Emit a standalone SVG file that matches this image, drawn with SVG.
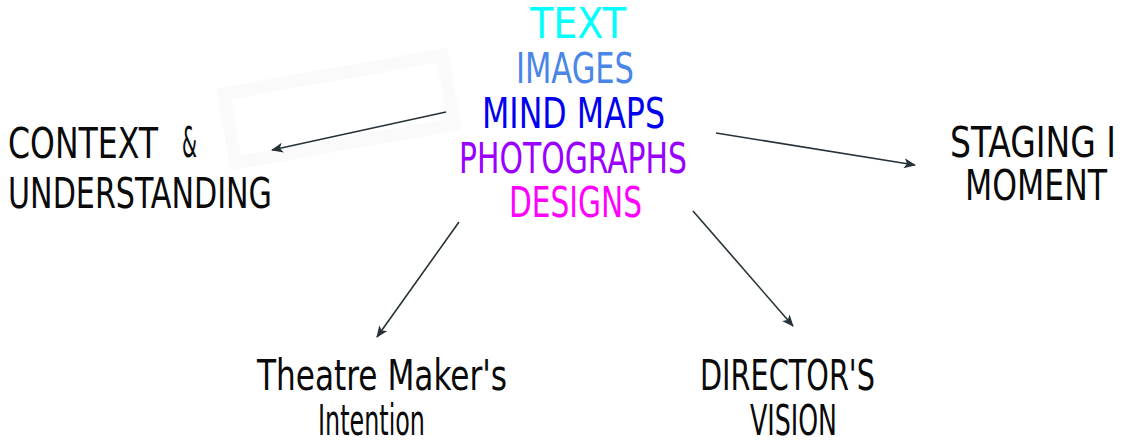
<svg xmlns="http://www.w3.org/2000/svg" width="1122" height="441" viewBox="0 0 1122 441">
  <style>
    .lbl { font-family: "Liberation Sans Narrow", "DejaVu Sans Condensed", "Liberation Sans", sans-serif; font-size: 42px; fill: #0a0a0a; }
    .hub { font-family: "Liberation Sans Narrow", "DejaVu Sans Condensed", "Liberation Sans", sans-serif; font-size: 42px; }
    .edge { stroke: #263238; stroke-width: 1.6; fill: none; marker-end: url(#head); }
  </style>
  <defs>
    <marker id="head" viewBox="0 0 12 10" refX="11" refY="5" markerWidth="12" markerHeight="10" markerUnits="userSpaceOnUse" orient="auto">
      <path d="M0,0 L12,5 L0,10 L3,5 Z" fill="#263238"/>
    </marker>
  </defs>
  <rect width="1122" height="441" fill="#ffffff"/>

  <!-- faint tilted frame behind the left branch -->
  <rect x="228" y="74" width="222" height="70" fill="none" stroke="#fafafa" stroke-width="13" transform="rotate(-10 339 109)"/>

  <g id="connectors">
    <line class="edge" x1="446" y1="112" x2="272" y2="150"/>
    <line class="edge" x1="716" y1="133" x2="915" y2="165"/>
    <line class="edge" x1="459" y1="222" x2="377" y2="337"/>
    <line class="edge" x1="693" y1="211" x2="793" y2="326"/>
  </g>

  <g id="hub">
    <text class="hub" x="530" y="38" textLength="96" lengthAdjust="spacingAndGlyphs" fill="#00ffff">TEXT</text>
    <text class="hub" x="516" y="83" textLength="118" lengthAdjust="spacingAndGlyphs" fill="#4a86e8">IMAGES</text>
    <text class="hub" x="482" y="128" textLength="183" lengthAdjust="spacingAndGlyphs" fill="#0000ee">MIND MAPS</text>
    <text class="hub" x="459" y="173" textLength="228" lengthAdjust="spacingAndGlyphs" fill="#9900ff">PHOTOGRAPHS</text>
    <text class="hub" x="509" y="217" textLength="133" lengthAdjust="spacingAndGlyphs" fill="#ff00ff">DESIGNS</text>
  </g>

  <g id="context">
    <text class="lbl" x="8" y="158" textLength="150" lengthAdjust="spacingAndGlyphs">CONTEXT</text>
    <text class="lbl" x="182" y="157" font-size="20" textLength="15" lengthAdjust="spacingAndGlyphs">&amp;</text>
    <text class="lbl" x="8" y="208" textLength="264" lengthAdjust="spacingAndGlyphs">UNDERSTANDING</text>
  </g>

  <g id="staging">
    <text class="lbl" x="950" y="157" textLength="166" lengthAdjust="spacingAndGlyphs">STAGING I</text>
    <text class="lbl" x="965" y="200" textLength="142" lengthAdjust="spacingAndGlyphs">MOMENT</text>
  </g>

  <g id="intention">
    <text class="lbl" x="257" y="390" textLength="250" lengthAdjust="spacingAndGlyphs">Theatre  Maker's</text>
    <text class="lbl" x="318" y="435" textLength="107" lengthAdjust="spacingAndGlyphs">Intention</text>
  </g>

  <g id="vision">
    <text class="lbl" x="700" y="390" textLength="175" lengthAdjust="spacingAndGlyphs">DIRECTOR'S</text>
    <text class="lbl" x="750" y="435" textLength="87" lengthAdjust="spacingAndGlyphs">VISION</text>
  </g>
</svg>
